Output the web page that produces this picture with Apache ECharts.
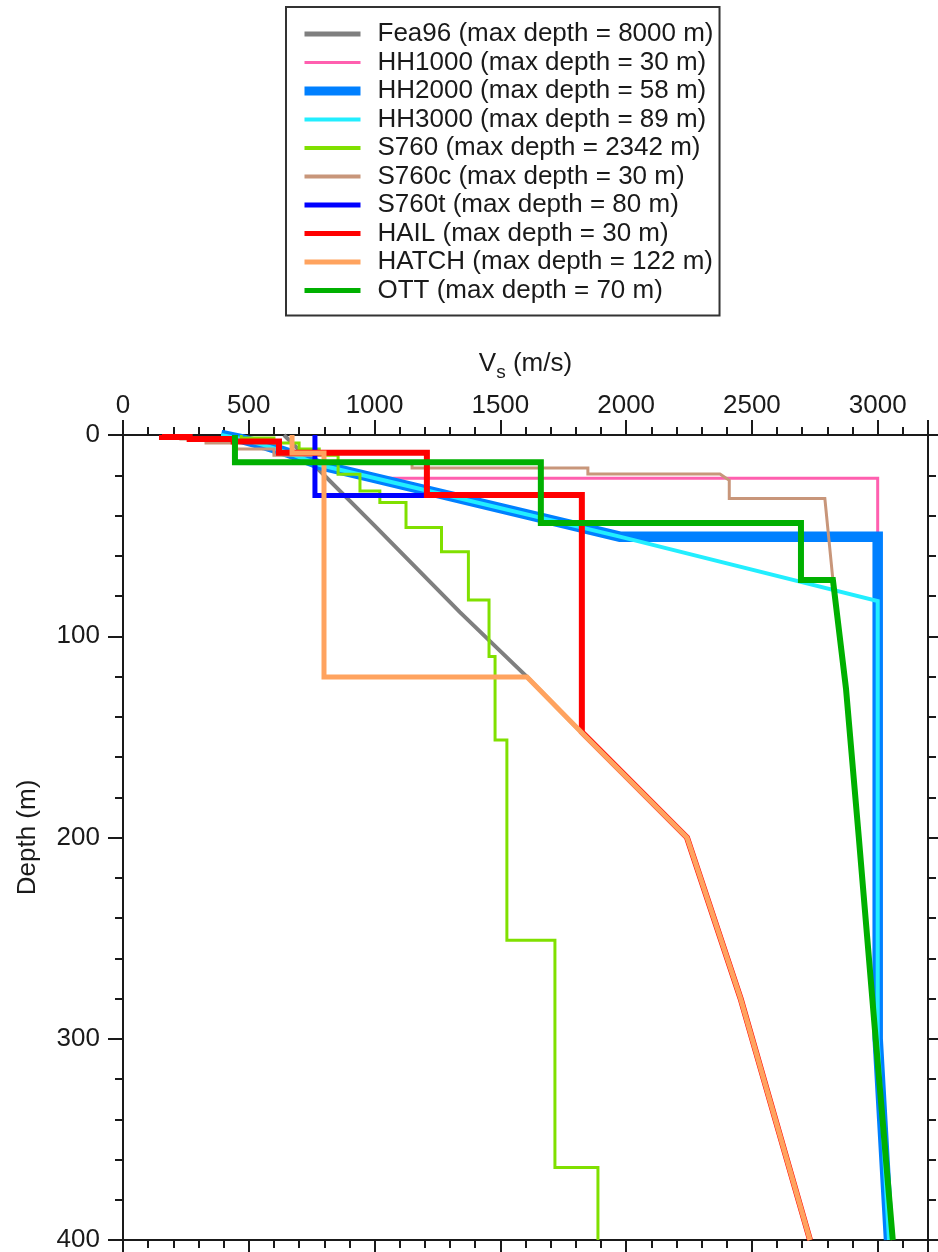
<!DOCTYPE html>
<html>
<head>
<meta charset="utf-8">
<script src="https://cdn.jsdelivr.net/npm/echarts@6/dist/echarts.min.js"></script>
<style>
html,body{margin:0;padding:0;background:#fff;}
#chart{width:938px;height:1252px;}
</style>
</head>
<body>
<div id="chart"></div>
<script>
// ---------------- DATA ----------------
const seriesNames = [
  'Fea96 (max depth = 8000 m)',
  'HH1000 (max depth = 30 m)',
  'HH2000 (max depth = 58 m)',
  'HH3000 (max depth = 89 m)',
  'S760 (max depth = 2342 m)',
  'S760c (max depth = 30 m)',
  'S760t (max depth = 80 m)',
  'HAIL (max depth = 30 m)',
  'HATCH (max depth = 122 m)',
  'OTT (max depth = 70 m)'
];
const yAxisTitle = 'Depth (m)';
const vsMin = 0, vsMax = 3200, vsMajor = 500, vsMinor = 100;
const depthMin = 0, depthMax = 400, depthMajor = 100;

// Fea96
const fea96Vs    = [640, 1000, 1339, 1606, 1821, 2242, 2455, 2731];
const fea96Depth = [0,   45,   88,   120.2, 147.6, 200, 280,  400];
// HH1000
const hh1000Vs    = [390, 470, 560, 660, 783, 1000, 3000, 3000, 3000, 3045];
const hh1000Depth = [0,   2,   5,   9,   14.9, 21.5, 21.5, 51,  300,  400];
// HH2000
const hh2000Vs    = [390, 470, 560, 660, 783, 987, 1975, 3000, 3000, 3045];
const hh2000Depth = [0,   2,   5,   9,   14.9, 21, 50.5, 50.5, 300,  400];
// HH3000
const hh3000Vs    = [390, 470, 560, 660, 783, 987, 1975, 3000, 3000, 3045];
const hh3000Depth = [0,   2,   5,   9,   14.9, 21, 50.5, 82.5, 300,  400];
// S760
const s760Vs    = [470, 470, 600, 600, 700, 700, 780, 780, 855, 855, 942, 942, 1021, 1021, 1125, 1125, 1266, 1266, 1373, 1373, 1455, 1455, 1479, 1479, 1526, 1526, 1717, 1717, 1888, 1888];
const s760Depth = [0,   1.5, 1.5, 4,   4,   7,   7,   10,  10,  19.5, 19.5, 27.8, 27.8, 33.5, 33.5, 46, 46,  58,   58,   82,   82,   110,  110,  151.6, 151.6, 251, 251, 364,  364,  400];
// S760c
const s760cVs    = [230, 230, 330, 330, 450, 450, 600, 600, 800, 800, 1149, 1149, 1848, 1848, 2373, 2410, 2410, 2790, 2822, 2874, 2925, 2992, 3060];
const s760cDepth = [0,   2,   2,   4,   4,   7,   7,   10,  10,  13.5, 13.5, 16.4, 16.4, 19.4, 19.4, 22.5, 31.6, 31.6, 72, 126,  200,  300,  400];
// S760t
const s760tVs    = [763, 763, 1208];
const s760tDepth = [0,   30,  30];
// HAIL
const hailVs    = [155, 155, 265, 265, 440, 440, 620, 620, 1208, 1208, 1824, 1824, 2242, 2455, 2731];
const hailDepth = [0,   1,   1,   2,   2,   3.2, 3.2, 8.8, 8.8,  29.8, 29.8, 147.6, 200, 280,  400];
// HATCH
const hatchVs    = [672, 672, 799, 799, 1606, 1821, 2242, 2455, 2731];
const hatchDepth = [0,   9,   9,   120.2, 120.2, 147.6, 200, 280, 400];
// OTT
const ottVs    = [445, 445, 1661, 1661, 2695, 2695, 2822, 2874, 2925, 2992, 3060];
const ottDepth = [0,   13.5, 13.5, 43.7, 43.7, 72,  72,   126,  200,  300,  400];

const profileVs    = [fea96Vs, hh1000Vs, hh2000Vs, hh3000Vs, s760Vs, s760cVs, s760tVs, hailVs, hatchVs, ottVs];
const profileDepth = [fea96Depth, hh1000Depth, hh2000Depth, hh3000Depth, s760Depth, s760cDepth, s760tDepth, hailDepth, hatchDepth, ottDepth];

// ---------------- STYLE ----------------
const lineColors = ['#7f7f7f', '#ff5faf', '#0080ff', '#22eeff', '#80e000', '#c8967a', '#0000ff', '#ff0000', '#ffa35f', '#00b000'];
const lineWidths = [4, 3, 10.5, 4, 3, 3, 5, 6, 5, 6];
const legendWidths = [5, 3, 9, 4, 4, 4, 5, 5, 5, 5];
const FONT = '"Liberation Sans", Arial, sans-serif';
const AX = '#1a1a1a';

const chart = echarts.init(document.getElementById('chart'), null, {renderer: 'canvas'});

const series = seriesNames.map((name, i) => ({
  name: name,
  type: 'line',
  xAxisIndex: 0,
  yAxisIndex: 0,
  data: profileVs[i].map((v, k) => [v, profileDepth[i][k]]),
  symbol: 'none',
  showSymbol: false,
  smooth: false,
  clip: true,
  silent: true,
  lineStyle: {color: lineColors[i], width: lineWidths[i], join: 'miter', cap: 'butt'},
  itemStyle: {color: lineColors[i]},
  emphasis: {disabled: true},
  z: 2 + i
}));

function xAx(pos, major, withLabels) {
  return {
    type: 'value', position: pos, min: vsMin, max: vsMax,
    interval: major ? vsMajor : vsMinor,
    axisLine: {show: major, onZero: false, lineStyle: {color: AX, width: 2}},
    axisTick: {show: true, inside: false, length: major ? 15 : 8, lineStyle: {color: AX, width: 2}},
    axisLabel: withLabels ? {
      show: true, margin: 16, fontSize: 26, lineHeight: 26, color: AX, fontFamily: FONT,
      formatter: v => (v % vsMajor === 0 ? String(v) : '')
    } : {show: false},
    splitLine: {show: false},
    minorTick: {show: false}
  };
}
function yAx(pos, withLabels) {
  return {
    type: 'value', position: pos, inverse: true, min: depthMin, max: depthMax, interval: depthMajor,
    axisLine: {show: true, onZero: false, lineStyle: {color: AX, width: 2}},
    axisTick: {show: true, inside: false, length: 15, lineStyle: {color: AX, width: 2}},
    minorTick: {show: true, splitNumber: 5, length: 8, lineStyle: {color: AX, width: 2}},
    axisLabel: withLabels ? {show: true, margin: 23, fontSize: 26, color: AX, fontFamily: FONT} : {show: false},
    splitLine: {show: false}
  };
}

const xTop = xAx('top', true, true);
xTop.name = '{a|V}{b|s}{a| (m/s)}';
xTop.nameLocation = 'middle';
xTop.nameGap = 53;
xTop.nameTextStyle = {
  color: AX, fontFamily: FONT,
  rich: {
    a: {fontSize: 26, lineHeight: 36, color: AX, fontFamily: FONT},
    b: {fontSize: 19, lineHeight: 18, verticalAlign: 'bottom', color: AX, fontFamily: FONT}
  }
};
const yLeft = yAx('left', true);
yLeft.name = yAxisTitle;
yLeft.nameLocation = 'middle';
yLeft.nameRotate = 90;
yLeft.nameGap = 80;
yLeft.nameTextStyle = {fontSize: 26, lineHeight: 30, color: AX, fontFamily: FONT};

chart.setOption({
  animation: false,
  backgroundColor: '#ffffff',
  textStyle: {fontFamily: FONT},
  grid: {left: 123, right: 10, top: 435, bottom: 12, containLabel: false, outerBoundsMode: 'none'},
  legend: {
    show: true,
    orient: 'vertical',
    left: 286, top: 7,
    padding: [13, 6, 11, 14],
    itemGap: 0.5,
    itemWidth: 56,
    itemHeight: 14,
    borderColor: '#333',
    borderWidth: 2,
    selectedMode: false,
    lineStyle: {width: 'inherit'},
    itemStyle: {opacity: 0, borderWidth: 0},
    data: seriesNames.map((n, i) => ({
      name: n,
      itemStyle: {opacity: 0, borderWidth: 0},
      lineStyle: {width: legendWidths[i], color: lineColors[i], cap: 'butt'}
    })),
    textStyle: {fontSize: 26, lineHeight: 28, color: AX, fontFamily: FONT, padding: [0, 0, 0, 12]}
  },
  xAxis: [xTop, xAx('top', false, false), xAx('bottom', true, false), xAx('bottom', false, false)],
  yAxis: [yLeft, yAx('right', false)],
  series: series
});
</script>
</body>
</html>
